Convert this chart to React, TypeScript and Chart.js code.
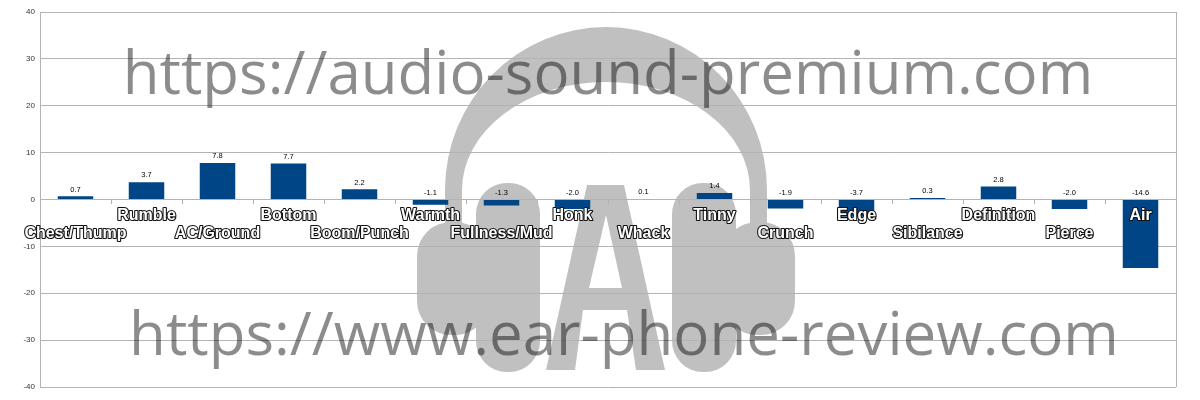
import React, { useEffect, useRef } from "react";
import { Chart, registerables } from "chart.js";

Chart.register(...registerables);

const categories = [
  "Chest/Thump", "Rumble", "AC/Ground", "Bottom", "Boom/Punch", "Warmth",
  "Fullness/Mud", "Honk", "Whack", "Tinny", "Crunch", "Edge",
  "Sibilance", "Definition", "Pierce", "Air",
];
const values = [0.7, 3.7, 7.8, 7.7, 2.2, -1.1, -1.3, -2.0, 0.1, 1.4, -1.9, -3.7, 0.3, 2.8, -2.0, -14.6];
const yTicks = [-40, -30, -20, -10, 0, 10, 20, 30, 40];
const watermarks = ["https://audio-sound-premium.com", "https://www.ear-phone-review.com"];

const GRID = "#b3b3b3";
const BAR = "#004586";

const logoPlugin = {
  id: "logoBg",
  beforeDraw(chart: any) {
    const ctx = chart.ctx as CanvasRenderingContext2D;
    ctx.save();
    ctx.fillStyle = "#ffffff";
    ctx.fillRect(0, 0, chart.width, chart.height);
    ctx.fillStyle = "#c0c0c0";
    const cx = 606;
    // headband
    ctx.beginPath();
    ctx.ellipse(cx, 190, 161, 163, 0, Math.PI, 2 * Math.PI);
    ctx.lineTo(cx + 161, 240);
    ctx.lineTo(cx + 144, 240);
    ctx.ellipse(cx, 190, 144, 108, 0, 0, Math.PI, true);
    ctx.lineTo(cx - 144, 240);
    ctx.lineTo(cx - 161, 240);
    ctx.closePath();
    ctx.fill();
    // cups
    ctx.beginPath();
    (ctx as any).roundRect(cx - 189, 222, 72, 113, 34);
    (ctx as any).roundRect(cx - 130, 183, 64, 189, 31);
    (ctx as any).roundRect(cx + 66, 183, 64, 189, 31);
    (ctx as any).roundRect(cx + 117, 222, 72, 113, 34);
    ctx.fill();
    // letter A
    ctx.beginPath();
    ctx.moveTo(546, 370);
    ctx.lineTo(587, 185);
    ctx.lineTo(624, 185);
    ctx.lineTo(665, 370);
    ctx.lineTo(636, 370);
    ctx.lineTo(627, 310);
    ctx.lineTo(583, 310);
    ctx.lineTo(575, 370);
    ctx.closePath();
    ctx.moveTo(606, 215);
    ctx.lineTo(622, 288);
    ctx.lineTo(589, 288);
    ctx.closePath();
    ctx.fill("evenodd");
    ctx.restore();
  },
};

const labelsPlugin = {
  id: "customLabels",
  afterDatasetsDraw(chart: any) {
    const ctx = chart.ctx as CanvasRenderingContext2D;
    const x = chart.scales.x;
    const y = chart.scales.y;
    ctx.save();
    // value labels
    ctx.font = "7.5px 'Liberation Sans'";
    ctx.fillStyle = "#000000";
    ctx.textAlign = "center";
    ctx.textBaseline = "bottom";
    values.forEach((v, i) => {
      const px = x.getPixelForValue(i);
      const py = y.getPixelForValue(Math.max(v, 0)) - 3;
      ctx.fillText(v.toFixed(1), px, py);
    });
    // category labels, staggered
    ctx.font = "bold 16px 'Liberation Sans'";
    ctx.textBaseline = "middle";
    ctx.lineJoin = "round";
    ctx.lineWidth = 2.2;
    ctx.strokeStyle = "#111111";
    ctx.fillStyle = "#ffffff";
    const zero = y.getPixelForValue(0);
    categories.forEach((c, i) => {
      const px = x.getPixelForValue(i);
      const py = zero + (i % 2 === 0 ? 34 : 16);
      ctx.strokeText(c, px, py);
      ctx.fillText(c, px, py);
    });
    // right border
    const a = chart.chartArea;
    ctx.strokeStyle = GRID;
    ctx.lineWidth = 1;
    ctx.beginPath();
    ctx.moveTo(Math.round(a.right) + 0.5, a.top);
    ctx.lineTo(Math.round(a.right) + 0.5, a.bottom);
    ctx.stroke();
    ctx.restore();
  },
  afterDraw(chart: any) {
    const ctx = chart.ctx as CanvasRenderingContext2D;
    ctx.save();
    ctx.font = "60px 'Open Sans'";
    ctx.fillStyle = "rgba(0,0,0,0.45)";
    ctx.textAlign = "center";
    ctx.textBaseline = "alphabetic";
    ctx.fillText(watermarks[0], 608, 94);
    ctx.fillText(watermarks[1], 624, 355);
    ctx.restore();
  },
};

export default function App() {
  const ref = useRef<HTMLCanvasElement>(null);
  useEffect(() => {
    document.body.style.margin = "0";
    const chart = new Chart(ref.current!, {
      type: "bar",
      data: {
        labels: categories,
        datasets: [
          {
            data: values,
            backgroundColor: BAR,
            borderWidth: 0,
            barPercentage: 0.5,
            categoryPercentage: 1,
          },
        ],
      },
      options: {
        responsive: false,
        animation: false,
        events: [],
        layout: { padding: { left: 0, right: 24, top: 12, bottom: 13 } },
        plugins: { legend: { display: false }, tooltip: { enabled: false } },
        scales: {
          x: {
            position: { y: 0 } as any,
            offset: true,
            ticks: { display: false },
            grid: { drawOnChartArea: false, drawTicks: true, tickLength: 4, color: GRID, offset: true },
            border: { color: GRID },
          },
          y: {
            min: -40,
            max: 40,
            afterBuildTicks: (s: any) => {
              s.ticks = yTicks.map((v) => ({ value: v }));
            },
            afterFit: (s: any) => {
              s.width = 40;
            },
            ticks: { font: { size: 8, family: "'Liberation Sans'" }, color: "#333333", padding: 5 },
            grid: { color: GRID, drawTicks: false },
            border: { color: GRID },
          },
        },
      },
      plugins: [logoPlugin, labelsPlugin],
    });
    return () => chart.destroy();
  }, []);
  return (
    <div style={{ width: 1200, height: 400 }}>
      <canvas ref={ref} width={1200} height={400} />
    </div>
  );
}
